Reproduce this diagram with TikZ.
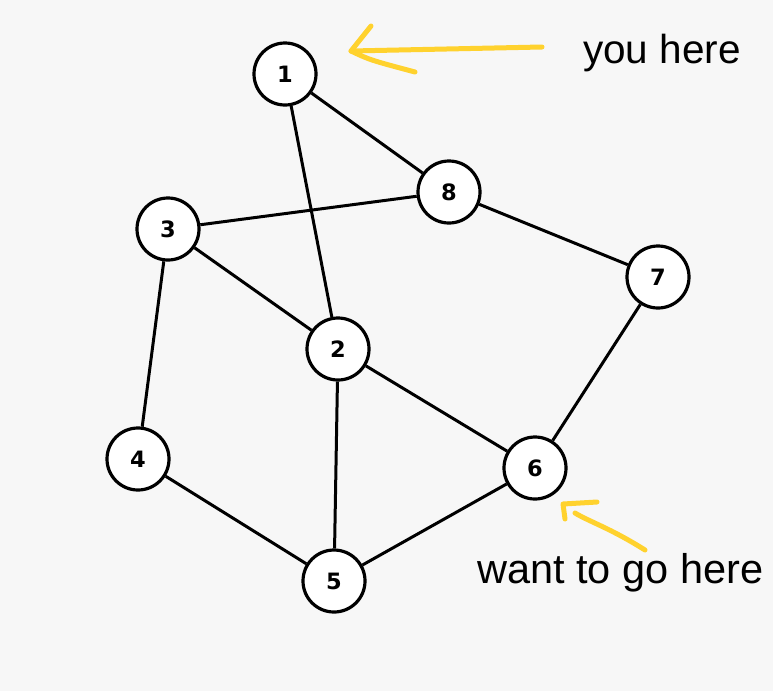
\documentclass[tikz,border=0pt]{standalone}
\usepackage{fontspec}
\setmainfont{Liberation Sans}
\newfontfamily\numfont{DejaVu Sans}
\definecolor{bgc}{HTML}{F7F7F7}
\definecolor{ylw}{HTML}{FFD22E}
\begin{document}
\begin{tikzpicture}[x=1pt,y=-1pt,
  vtx/.style={circle,draw=black,fill=white,line width=3.2pt,minimum size=62pt,inner sep=0pt,
    font=\numfont\bfseries\fontsize{22.5}{22.5}\selectfont},
  edge/.style={line width=3pt,black},
  hand/.style={ylw,line width=5pt,line cap=round,line join=round},
  lbl/.style={text=black,inner sep=0pt}]
\fill[bgc] (0,0) rectangle (773,691);
\useasboundingbox (0,0) rectangle (773,691);
\node[vtx] (n1) at (285,74) {1};
\node[vtx] (n8) at (449,192) {8};
\node[vtx] (n3) at (168,229) {3};
\node[vtx] (n7) at (658,277) {7};
\node[vtx] (n2) at (338,349) {2};
\node[vtx] (n4) at (138,459) {4};
\node[vtx] (n6) at (535,468) {6};
\node[vtx] (n5) at (334,581) {5};
\draw[edge] (n1) -- (n8);
\draw[edge] (n1) -- (n2);
\draw[edge] (n3) -- (n8);
\draw[edge] (n8) -- (n7);
\draw[edge] (n3) -- (n2);
\draw[edge] (n3) -- (n4);
\draw[edge] (n2) -- (n6);
\draw[edge] (n2) -- (n5);
\draw[edge] (n4) -- (n5);
\draw[edge] (n5) -- (n6);
\draw[edge] (n6) -- (n7);
% yellow hand-drawn arrows
\coordinate (a1s) at (542,47);
\coordinate (a1t) at (351,51);
\draw[hand] (a1s) -- (a1t);
\draw[hand] (371,26) -- (a1t) .. controls (370,60) .. (415,72);
\coordinate (a2s) at (645,550);
\coordinate (a2t) at (563,504);
\draw[hand] (a2s) .. controls (610,528) and (590,522) .. (575,513);
\draw[hand] (597,502) -- (a2t) -- (565,519);
\node[lbl,anchor=base west,font=\fontsize{40.5}{44}\selectfont] (t1) at (583,63) {you here};
\node[lbl,anchor=base west,font=\fontsize{41.5}{44}\selectfont] (t2) at (477,583) {want to go here};
\end{tikzpicture}
\end{document}
